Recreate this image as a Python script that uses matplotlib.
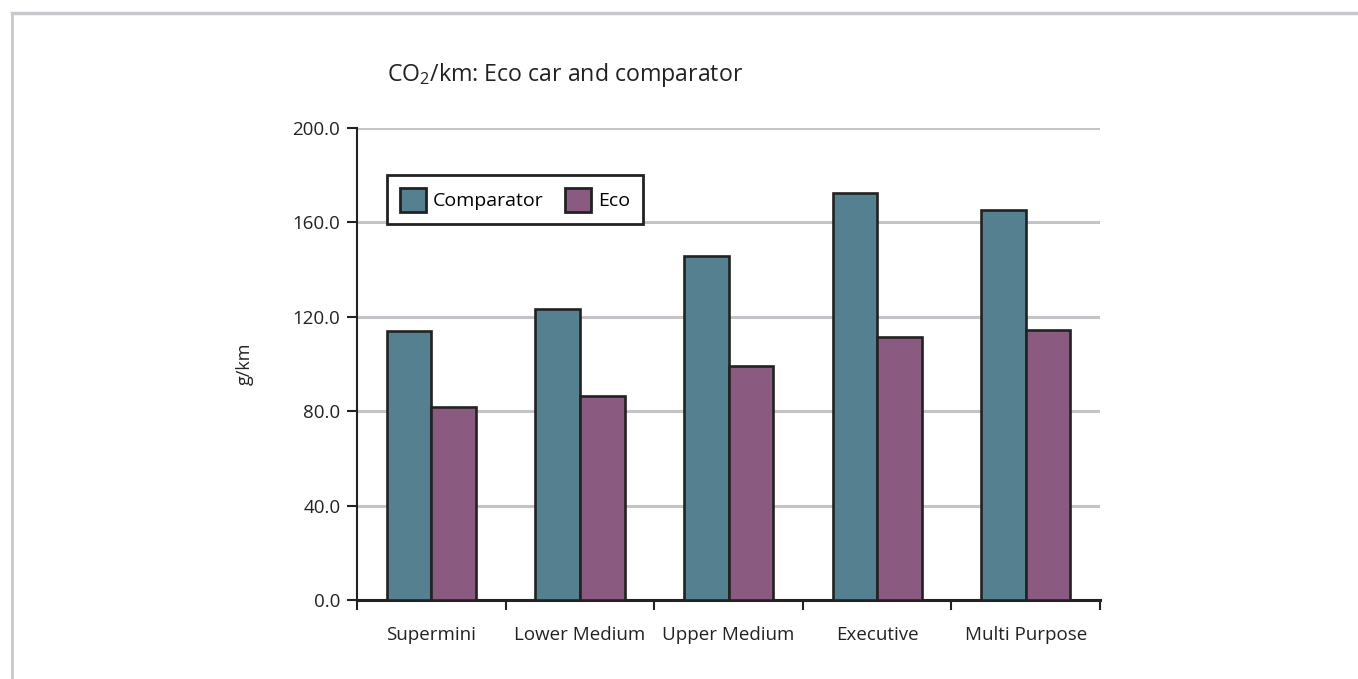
import matplotlib
matplotlib.use('Agg')
import matplotlib.pyplot as plt
import numpy as np
from matplotlib.lines import Line2D

categories = ['Supermini', 'Lower Medium', 'Upper Medium', 'Executive', 'Multi Purpose']
comparator = [114.0, 123.1, 145.8, 172.5, 165.1]
eco = [81.8, 86.4, 99.0, 111.6, 114.6]
yticks = [0, 40, 80, 120, 160, 200]

plt.rcParams['font.family'] = ['Open Sans', 'DejaVu Sans']
plt.rcParams['mathtext.default'] = 'regular'

fig = plt.figure(figsize=(13.58, 6.79), dpi=100)
ax = fig.add_axes([0.2629, 0.1163, 0.5472, 0.6952])

x = np.arange(len(categories))
w = 0.3
ax.bar(x - w / 2, comparator, w, color='#54808f', edgecolor='#222222', linewidth=1.9,
       label='Comparator', zorder=3)
ax.bar(x + w / 2, eco, w, color='#8a5a80', edgecolor='#222222', linewidth=1.9,
       label='Eco', zorder=3)

ax.set_xlim(-0.5, len(categories) - 0.5)
ax.set_ylim(0, 200)
ax.set_yticks(yticks)
ax.set_yticklabels(['%.1f' % v for v in yticks], fontsize=13.5, color='#222222')
ax.set_xticks(x)
ax.set_xticklabels(categories, fontsize=13.5, color='#222222')
ax.set_xticks(np.arange(-0.5, len(categories)), minor=True)
ax.tick_params(axis='x', which='major', length=0, pad=19)
ax.tick_params(axis='x', which='minor', length=7, width=1.5, color='#222222')
ax.tick_params(axis='y', length=7, width=1.5, color='#222222', pad=5)
ax.yaxis.grid(True, color='#c4c4c8', linewidth=2.2)
ax.set_axisbelow(True)
for s in ['top', 'right']:
    ax.spines[s].set_visible(False)
ax.spines['left'].set_color('#222222')
ax.spines['left'].set_linewidth(1.5)
ax.spines['bottom'].set_color('#222222')
ax.spines['bottom'].set_linewidth(2.2)
ax.set_ylabel('g/km', fontsize=13, color='#222222', labelpad=28)

leg = ax.legend(loc='upper left', bbox_to_anchor=(0.0404, 0.9), borderaxespad=0, ncol=2,
                fontsize=14, fancybox=False, handlelength=1.35, handleheight=1.5,
                columnspacing=1.1, handletextpad=0.35, borderpad=0.65)
leg.get_frame().set_edgecolor('#222222')
leg.get_frame().set_linewidth(2)
leg.get_frame().set_alpha(1)
for h in leg.legend_handles:
    h.set_linewidth(2)

fig.text(0.285, 0.8895, 'CO$_2$/km: Eco car and comparator', fontsize=16.7,
         color='#222222', va='center', ha='left')

# outer grey frame
fig.add_artist(Line2D([0.0088, 1.0], [0.981, 0.981], color='#c8c8cc', linewidth=2.5))
fig.add_artist(Line2D([0.0088, 0.0088], [0.0, 0.981], color='#c8c8cc', linewidth=2))

fig.savefig('out.png', dpi=100)
